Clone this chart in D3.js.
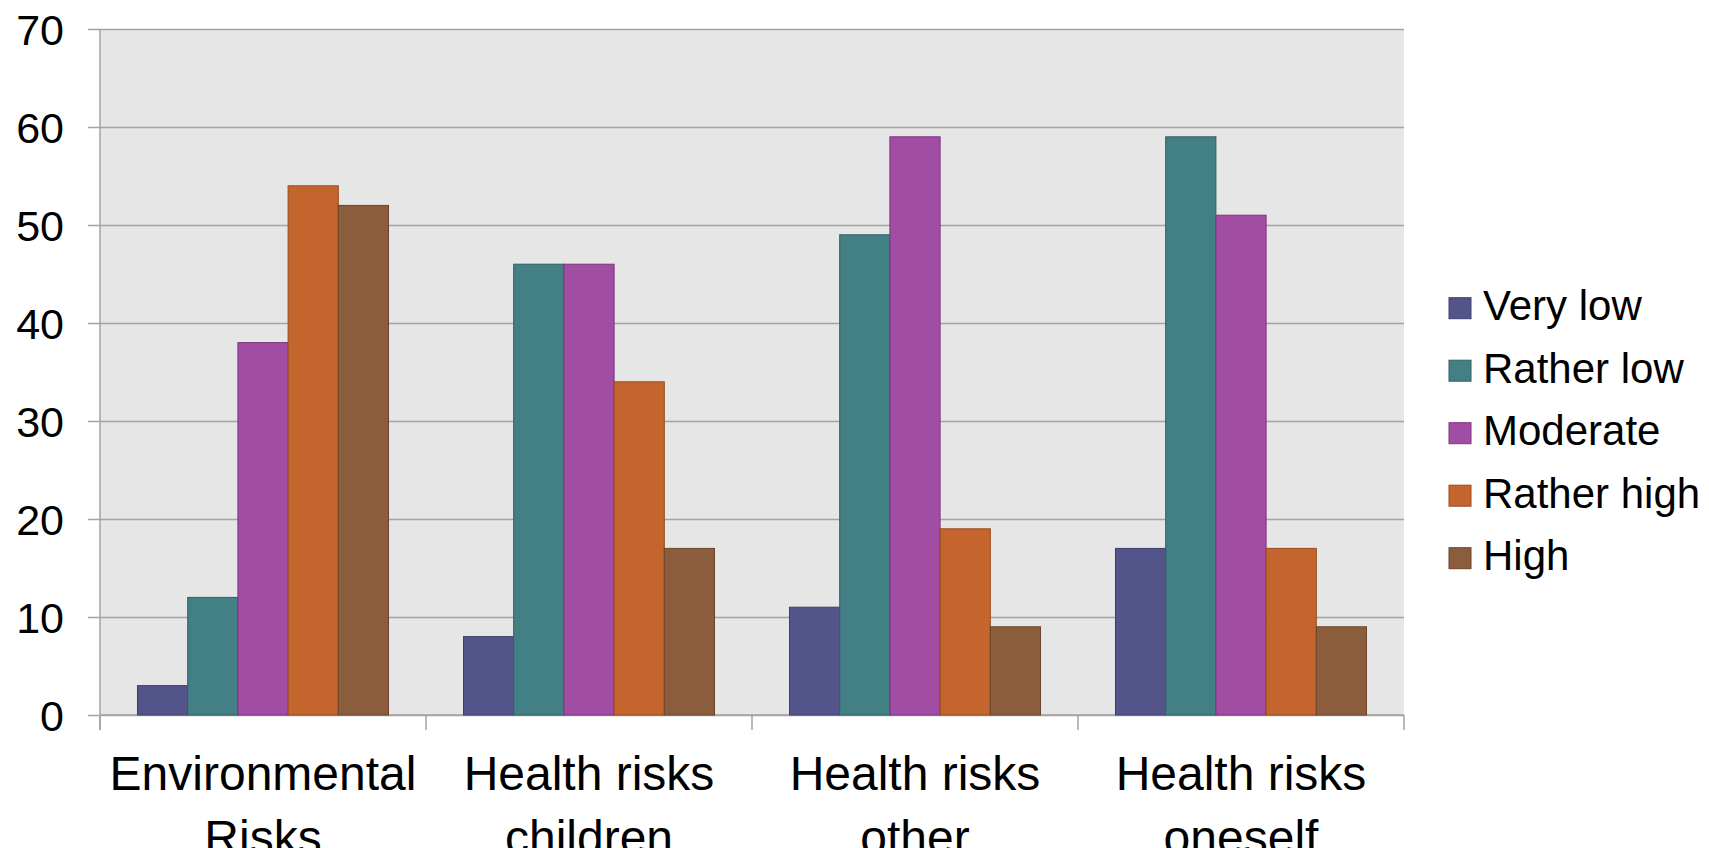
<!DOCTYPE html>
<html>
<head>
<meta charset="utf-8">
<script src="https://cdn.jsdelivr.net/npm/d3@7"></script>
<style>
  html, body { margin: 0; padding: 0; background: #ffffff; }
  svg { display: block; font-family: "Liberation Sans", Arial, sans-serif; }
</style>
</head>
<body>
<svg id="chart" width="1709" height="848"></svg>
<script>
// ---- data ----
const categories = [["Environmental", "Risks"], ["Health risks", "children"], ["Health risks", "other"], ["Health risks", "oneself"]];
const seriesNames = ["Very low", "Rather low", "Moderate", "Rather high", "High"];
const veryLow    = [3, 8, 11, 17];
const ratherLow  = [12, 46, 49, 59];
const moderate   = [38, 46, 59, 51];
const ratherHigh = [54, 34, 19, 17];
const high       = [52, 17, 9, 9];
const yTicks = [0, 10, 20, 30, 40, 50, 60, 70];

(function () {
const seriesValues = [veryLow, ratherLow, moderate, ratherHigh, high];
const fills   = ["#53548A", "#438086", "#A04DA3", "#C4652D", "#8B5D3D"];
const strokes = ["#3E3F6E", "#2F5F64", "#7C3580", "#9A4A1E", "#6A452B"];

// ---- layout ----
const svg = d3.select("#chart");
const pLeft = 100, pRight = 1404, pTop = 29, pBottom = 715;
const catKeys = categories.map((c, i) => i);

const x0 = d3.scaleBand().domain(catKeys).range([pLeft, pRight])
  .paddingInner(0.23).paddingOuter(0.115);
const x1 = d3.scaleBand().domain(d3.range(seriesNames.length)).range([0, x0.bandwidth()]).padding(0);
const y = d3.scaleLinear().domain([0, 70]).range([pBottom, pTop]);

// plot background
svg.append("rect").attr("x", pLeft).attr("y", y(70)).attr("width", pRight - pLeft).attr("height", y(0) - y(70))
  .attr("fill", "#E6E6E6");

// gridlines + y ticks
const gAxisY = svg.append("g").attr("transform", `translate(${pLeft},0)`)
  .call(d3.axisLeft(y).tickValues(yTicks).tickSizeInner(-(pRight - pLeft)).tickSizeOuter(0).tickPadding(0));
gAxisY.select(".domain").remove();
gAxisY.selectAll(".tick line").attr("x1", -12).attr("stroke", "#A3A3A3").attr("stroke-width", 1.5);
gAxisY.selectAll(".tick text").attr("x", -36).attr("dy", "0.35em")
  .attr("font-size", 43).attr("fill", "#000").attr("font-family", "'Liberation Sans', Arial, sans-serif");

// y axis line
svg.append("line").attr("x1", pLeft).attr("x2", pLeft).attr("y1", y(70)).attr("y2", y(0) + 15)
  .attr("stroke", "#A3A3A3").attr("stroke-width", 1.5);
// x axis line
svg.append("line").attr("x1", pLeft).attr("x2", pRight).attr("y1", y(0)).attr("y2", y(0))
  .attr("stroke", "#A3A3A3").attr("stroke-width", 1.5);
// category boundary ticks
const boundaries = d3.range(categories.length + 1).map(i => x0.range()[0] + i * x0.step());
svg.append("g").selectAll("line").data(boundaries).join("line")
  .attr("x1", d => d).attr("x2", d => d).attr("y1", y(0)).attr("y2", y(0) + 15)
  .attr("stroke", "#A3A3A3").attr("stroke-width", 1.5);

// bars
const groups = svg.append("g").selectAll("g").data(catKeys).join("g")
  .attr("transform", d => `translate(${x0(d)},0)`);
groups.selectAll("rect")
  .data(ci => seriesValues.map((vals, si) => ({ si, v: vals[ci] })))
  .join("rect")
  .attr("x", d => x1(d.si))
  .attr("width", x1.bandwidth())
  .attr("y", d => y(d.v))
  .attr("height", d => y(0) - y(d.v))
  .attr("fill", d => fills[d.si])
  .attr("stroke", d => strokes[d.si])
  .attr("stroke-width", 1);

// category labels
const catLabels = svg.append("g").selectAll("text").data(catKeys).join("text")
  .attr("x", d => x0(d) + x0.bandwidth() / 2)
  .attr("y", 790)
  .attr("text-anchor", "middle")
  .attr("font-size", 48)
  .attr("fill", "#000");
catLabels.selectAll("tspan").data(d => categories[d]).join("tspan")
  .attr("x", function () { return d3.select(this.parentNode).attr("x"); })
  .attr("dy", (d, i) => i === 0 ? 0 : 64)
  .text(d => d);

// legend
const legendY = d3.scaleLinear().domain([0, 1]).range([297.7, 360.2]);
const legend = svg.append("g").selectAll("g").data(seriesNames).join("g")
  .attr("transform", (d, i) => `translate(1449,${legendY(i)})`);
legend.append("rect").attr("width", 22).attr("height", 21)
  .attr("fill", (d, i) => fills[i]).attr("stroke", (d, i) => strokes[i]).attr("stroke-width", 1);
legend.append("text").attr("x", 34).attr("y", 22.5).attr("font-size", 42).attr("fill", "#000").text(d => d);
})();
</script>
</body>
</html>
